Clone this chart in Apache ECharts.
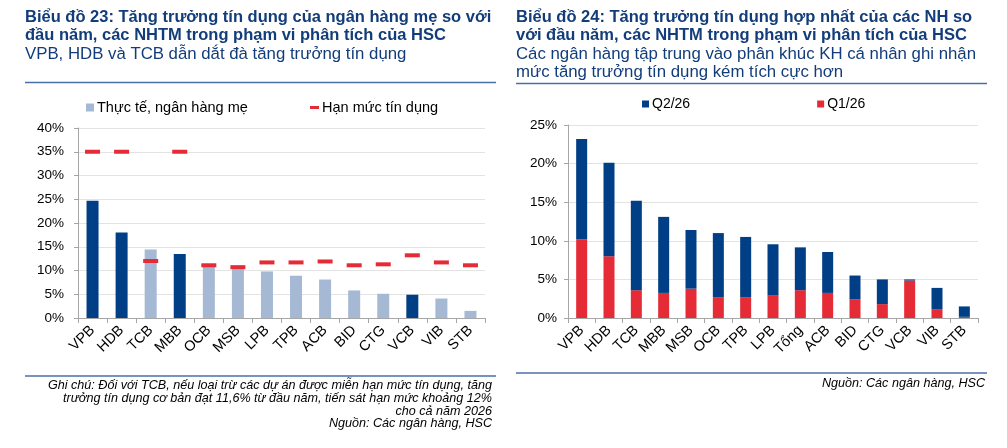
<!DOCTYPE html>
<html>
<head>
<meta charset="utf-8">
<script src="https://cdn.jsdelivr.net/npm/echarts@6/dist/echarts.min.js"></script>
<style>
    html, body { margin: 0; padding: 0; background: #fff; }
    #chart { width: 1007px; height: 448px; }
</style>
</head>
<body>
<div id="chart"></div>
<script>
// Chart data
// ------------------------------

// Left chart: parent bank credit growth vs credit quota
var banksLeft = ['VPB', 'HDB', 'TCB', 'MBB', 'OCB', 'MSB', 'LPB', 'TPB', 'ACB', 'BID', 'CTG', 'VCB', 'VIB', 'STB'];
var actualLeft = [24.7, 18.0, 14.4, 13.5, 10.9, 10.3, 9.8, 8.9, 8.1, 5.8, 5.1, 4.9, 4.1, 1.5];
var quotaLeft = [35, 35, 12, 35, 11.1, 10.7, 11.7, 11.7, 11.9, 11.1, 11.3, 13.2, 11.7, 11.1];
var highlightLeft = ['VPB', 'HDB', 'MBB', 'VCB'];

// Right chart: consolidated credit growth, stacked by quarter
var banksRight = ['VPB', 'HDB', 'TCB', 'MBB', 'MSB', 'OCB', 'TPB', 'LPB', 'Tổng', 'ACB', 'BID', 'CTG', 'VCB', 'VIB', 'STB'];
var q1Right = [10.2, 8.0, 3.6, 3.25, 3.8, 2.7, 2.7, 2.9, 3.6, 3.25, 2.4, 1.8, 4.85, 1.15, 0.15];
var q2Right = [13.0, 12.1, 11.6, 9.85, 7.6, 8.3, 7.8, 6.65, 5.55, 5.3, 3.1, 3.2, 0.15, 2.75, 1.35];

// Texts
var titleLeft = 'Biểu đồ 23: Tăng trưởng tín dụng của ngân hàng mẹ so với\nđầu năm, các NHTM trong phạm vi phân tích của HSC';
var subLeft = 'VPB, HDB và TCB dẫn dắt đà tăng trưởng tín dụng';
var titleRight = 'Biểu đồ 24: Tăng trưởng tín dụng hợp nhất của các NH so\nvới đầu năm, các NHTM trong phạm vi phân tích của HSC';
var subRight = 'Các ngân hàng tập trung vào phân khúc KH cá nhân ghi nhận\nmức tăng trưởng tín dụng kém tích cực hơn';
var noteLeft = 'Ghi chú: Đối với TCB, nếu loại trừ các dự án được miễn hạn mức tín dụng, tăng\ntrưởng tín dụng cơ bản đạt 11,6% từ đầu năm, tiến sát hạn mức khoảng 12%\ncho cả năm 2026\nNguồn: Các ngân hàng, HSC';
var noteRight = 'Nguồn: Các ngân hàng, HSC';


// Colors and fonts
var DARK = '#003e85';
var LIGHT = '#a5b8d4';
var RED = '#e52b36';
var TITLE = '#123d7a';
var RULE = '#4a6fa8';
var FONT = '"Liberation Sans", Arial, sans-serif';


// Setup chart
// ------------------------------

var chart = echarts.init(document.getElementById('chart'));

var catAxis = function(data, grid) {
    return {
        type: 'category',
        gridIndex: grid,
        data: data,
        axisLine: { lineStyle: { color: '#a6a6a6' } },
        axisTick: { show: true, length: 5, lineStyle: { color: '#a6a6a6' } },
        axisLabel: { rotate: 45, color: '#000', fontSize: 14.5, fontFamily: FONT, margin: 10, interval: 0 }
    };
};

var valAxis = function(max, grid, margin) {
    return {
        type: 'value',
        gridIndex: grid,
        min: 0,
        max: max,
        interval: 5,
        axisLine: { show: true, lineStyle: { color: '#a6a6a6' } },
        axisTick: { show: true, length: 4, lineStyle: { color: '#a6a6a6' } },
        axisLabel: { formatter: '{value}%', color: '#000', fontSize: 13.5, fontFamily: FONT, margin: margin },
        splitLine: { lineStyle: { color: '#e3e3e3' } }
    };
};

var titleStyle = { fontSize: 16.5, fontWeight: 'bold', color: TITLE, lineHeight: 18.5, fontFamily: FONT };
var subStyle = { fontSize: 16.8, color: TITLE, lineHeight: 18.5, fontFamily: FONT };
var legendText = { fontSize: 14.5, color: '#000', padding: [0, 0, 0, -2] };

chart.setOption({
    animation: false,
    textStyle: { fontFamily: FONT },

    title: [
        { text: titleLeft, subtext: subLeft, left: 25, top: 8, itemGap: 0, padding: 0, textStyle: titleStyle, subtextStyle: subStyle },
        { text: titleRight, subtext: subRight, left: 516, top: 8, itemGap: 0, padding: 0, textStyle: titleStyle, subtextStyle: subStyle }
    ],

    legend: [
        {
            data: [{ name: 'Thực tế, ngân hàng mẹ', itemStyle: { color: LIGHT } }],
            left: 86, top: 100, padding: 0, itemWidth: 8, itemHeight: 8, itemGap: 4,
            icon: 'rect', textStyle: legendText
        },
        {
            data: ['Hạn mức tín dụng'],
            left: 310, top: 100, padding: 0, itemWidth: 9, itemHeight: 3,
            icon: 'rect', textStyle: legendText
        },
        {
            data: ['Q2/26', 'Q1/26'],
            left: 642, top: 97, padding: 0, itemWidth: 7, itemHeight: 7, itemGap: 127,
            icon: 'rect', textStyle: { fontSize: 14, color: '#000', padding: [0, 0, 0, -2] }
        }
    ],

    grid: [
        { left: 78, top: 128, width: 407, height: 190 },
        { left: 568, top: 125, width: 410, height: 193 }
    ],

    xAxis: [catAxis(banksLeft, 0), catAxis(banksRight, 1)],
    yAxis: [valAxis(40, 0, 14), valAxis(25, 1, 11)],

    series: [
        {
            name: 'Thực tế, ngân hàng mẹ',
            type: 'bar',
            xAxisIndex: 0, yAxisIndex: 0,
            barWidth: 12,
            itemStyle: { color: LIGHT },
            data: actualLeft.map(function(v, i) {
                return {
                    value: v,
                    itemStyle: { color: highlightLeft.indexOf(banksLeft[i]) >= 0 ? DARK : LIGHT }
                };
            }),
            z: 2
        },
        {
            name: 'Hạn mức tín dụng',
            type: 'scatter',
            xAxisIndex: 0, yAxisIndex: 0,
            symbol: 'rect',
            symbolSize: [15, 4],
            itemStyle: { color: RED, opacity: 1 },
            data: quotaLeft,
            z: 3
        },
        {
            name: 'Q1/26',
            type: 'bar',
            xAxisIndex: 1, yAxisIndex: 1,
            stack: 'total',
            barWidth: 11,
            itemStyle: { color: RED },
            data: q1Right
        },
        {
            name: 'Q2/26',
            type: 'bar',
            xAxisIndex: 1, yAxisIndex: 1,
            stack: 'total',
            barWidth: 11,
            itemStyle: { color: DARK },
            data: q2Right
        }
    ],

    graphic: [
        { type: 'line', shape: { x1: 25, y1: 82.5, x2: 496, y2: 82.5 }, style: { stroke: RULE, lineWidth: 1.5 } },
        { type: 'line', shape: { x1: 516, y1: 83.5, x2: 987, y2: 83.5 }, style: { stroke: RULE, lineWidth: 1.5 } },
        { type: 'line', shape: { x1: 25, y1: 376, x2: 496, y2: 376 }, style: { stroke: RULE, lineWidth: 1.5 } },
        { type: 'line', shape: { x1: 516, y1: 373, x2: 987, y2: 373 }, style: { stroke: RULE, lineWidth: 1.5 } },
        {
            type: 'text', x: 492, y: 379,
            style: {
                text: noteLeft, align: 'right', verticalAlign: 'top', fill: '#000',
                font: 'italic 12.6px ' + FONT, lineHeight: 12.8
            }
        },
        {
            type: 'text', x: 985, y: 377,
            style: {
                text: noteRight, align: 'right', verticalAlign: 'top', fill: '#000',
                font: 'italic 12.6px ' + FONT, lineHeight: 12.8
            }
        }
    ]
});
</script>
</body>
</html>
